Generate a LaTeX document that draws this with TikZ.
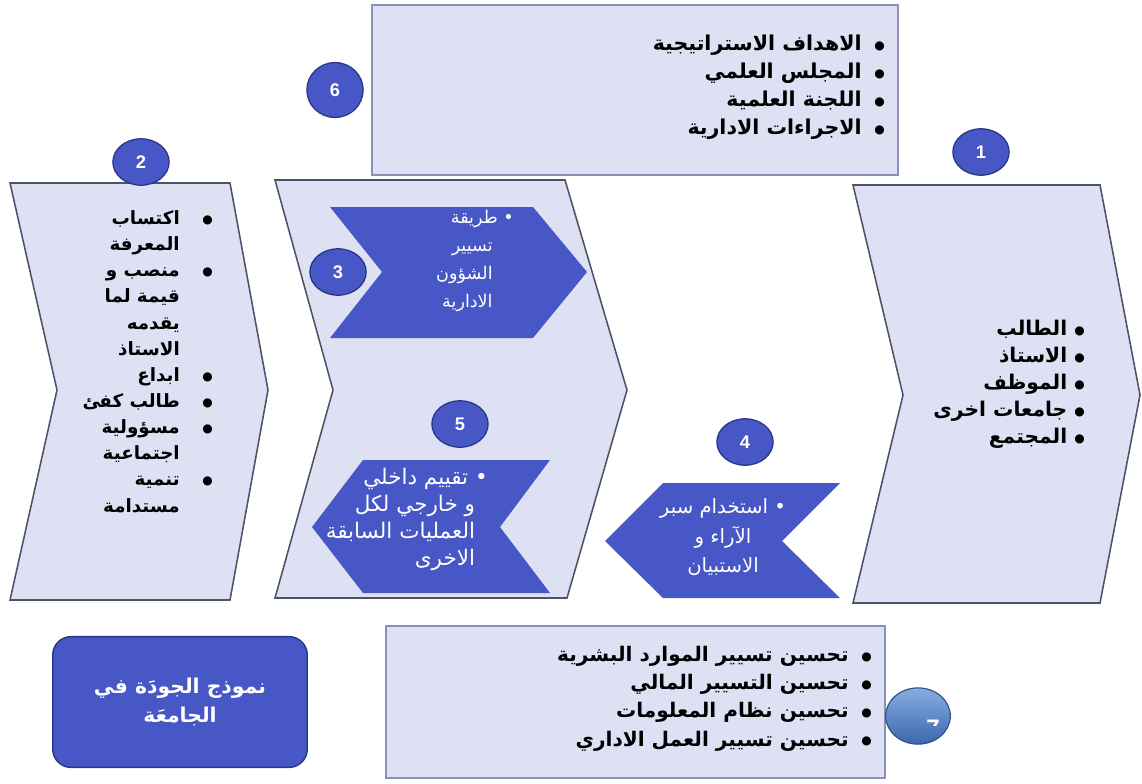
\documentclass[tikz,border=0pt]{standalone}
\usepackage{fontspec}
\usetikzlibrary{shapes.geometric}
\setmainfont{Liberation Sans}
\newfontfamily\arfont[Script=Arabic]{DejaVu Sans}
\TeXXeTstate=1
\newcommand\ARt[1]{\beginR #1\endR}
\newcommand\bul{\raisebox{0.8pt}{\fontsize{8.5}{8.5}\selectfont ●}}
\definecolor{lightfill}{HTML}{DEE1F3}
\definecolor{chevborder}{HTML}{4E5266}
\definecolor{boxborder}{HTML}{8A90B8}
\definecolor{qblue}{HTML}{4757C6}
\definecolor{numborder}{HTML}{2A3585}
\definecolor{glosstop}{HTML}{86AEE0}
\definecolor{glossbot}{HTML}{3C67AE}
\definecolor{glossborder}{HTML}{2F4F86}
\begin{document}
\begin{tikzpicture}[x=0.025cm,y=-0.025cm,
  lightshape/.style={fill=lightfill, draw=chevborder, line width=1.1pt, line join=miter},
  boxshape/.style={fill=lightfill, draw=boxborder, line width=1.6pt},
  darkshape/.style={fill=qblue},
  numcirc/.style={ellipse, fill=qblue, draw=numborder, line width=0.9pt, text=white,
    font=\bfseries\fontsize{13}{13}\selectfont, minimum width=40pt, minimum height=33pt, inner sep=0pt},
  glossy/.style={ellipse, top color=glosstop, bottom color=glossbot, draw=glossborder, line width=0.8pt,
    minimum width=46pt, minimum height=40pt, inner sep=0pt},
  blacklist/.style n args={2}{inner sep=0pt, text=black, font={\arfont\bfseries\fontsize{#1}{#2}\selectfont}},
  whitelist/.style n args={2}{inner sep=0pt, text=white, font={\arfont\fontsize{#1}{#2}\selectfont}},
  titlebox/.style={rounded corners=13pt, fill=qblue, draw=numborder, line width=1pt, text=white,
    minimum width=181pt, minimum height=93pt, align=center,
    font={\arfont\bfseries\fontsize{14.5}{20}\selectfont}}
]
\useasboundingbox (0,0) rectangle (1142,783);
\fill[white] (0,0) rectangle (1142,783);

% big light shapes
\draw[boxshape] (372,5) rectangle (898,175);
\draw[lightshape] (10,183) -- (230,183) -- (268,390) -- (230,600) -- (10,600) -- (57,390) -- cycle;
\draw[lightshape] (275,180) -- (565,180) -- (627,390) -- (567,598) -- (275,598) -- (333,390) -- cycle;
\draw[lightshape] (853,185) -- (1100,185) -- (1140,395) -- (1100,603) -- (853,603) -- (903,395) -- cycle;
\draw[boxshape] (386,626) rectangle (885,778);

% dark chevrons
\fill[darkshape] (330,207) -- (533,207) -- (587,272) -- (533,338) -- (330,338) -- (382,272) -- cycle;
\fill[darkshape] (363,460) -- (550,460) -- (500,527) -- (550,593) -- (363,593) -- (312,527) -- cycle;
\fill[darkshape] (663,483) -- (840,483) -- (782,541) -- (840,598) -- (663,598) -- (605,541) -- cycle;

% number circles
\node[numcirc] (n1) at (981,152) {1};
\node[numcirc] (n2) at (141,162) {2};
\node[numcirc, minimum height=39pt] (n6) at (335,90) {6};
\node[numcirc] (n3) at (338,272) {3};
\node[numcirc] (n5) at (460,424) {5};
\node[numcirc] (n4) at (745,442) {4};

% glossy circle
\node[glossy] (n7) at (918,716) {};
\begin{scope}
  \clip (905,712) rectangle (945,725);
  \node[text=white, inner sep=0pt, font=\bfseries\fontsize{17}{17}\selectfont] (t7) at (933,728) {7};
\end{scope}

% top box list
\node[blacklist={14.6}{19.9pt}, anchor=east] (toplist) at (885,87) {%
\begin{tabular}{@{}r@{\hspace{9pt}}c@{}}
\ARt{الاهداف الاستراتيجية} & \bul \\
\ARt{المجلس العلمي} & \bul \\
\ARt{اللجنة العلمية} & \bul \\
\ARt{الاجراءات الادارية} & \bul \\
\end{tabular}};

% left chevron list
\node[blacklist={13}{18.6pt}, anchor=east] (leftlist) at (213,363) {%
\begin{tabular}{@{}r@{\hspace{16pt}}c@{}}
\ARt{اكتساب} & \bul \\
\ARt{المعرفة} & \\
\ARt{منصب و} & \bul \\
\ARt{قيمة لما} & \\
\ARt{يقدمه} & \\
\ARt{الاستاذ} & \\
\ARt{ابداع} & \bul \\
\ARt{طالب كفئ} & \bul \\
\ARt{مسؤولية} & \bul \\
\ARt{اجتماعية} & \\
\ARt{تنمية} & \bul \\
\ARt{مستدامة} & \\
\end{tabular}};

% right chevron list
\node[blacklist={14.4}{19.2pt}, anchor=east] (rightlist) at (1085,384) {%
\begin{tabular}{@{}r@{\hspace{5pt}}c@{}}
\ARt{الطالب} & \bul \\
\ARt{الاستاذ} & \bul \\
\ARt{الموظف} & \bul \\
\ARt{جامعات اخرى} & \bul \\
\ARt{المجتمع} & \bul \\
\end{tabular}};

% bottom box list
\node[blacklist={14.3}{20.1pt}, anchor=east] (botlist) at (872,698) {%
\begin{tabular}{@{}r@{\hspace{9pt}}c@{}}
\ARt{تحسين تسيير الموارد البشرية} & \bul \\
\ARt{تحسين التسيير المالي} & \bul \\
\ARt{تحسين نظام المعلومات} & \bul \\
\ARt{تحسين تسيير العمل الاداري} & \bul \\
\end{tabular}};

% chevron 3 text
\node[whitelist={12.5}{19.9pt}, anchor=east] (t3) at (514,260) {%
\begin{tabular}{@{}r@{}}
\ARt{• طريقة} \\
\ARt{تسيير}\kern15pt \\
\ARt{الشؤون}\kern15pt \\
\ARt{الادارية}\kern15pt \\
\end{tabular}};

% chevron 5 text
\node[whitelist={15.3}{19.2pt}, anchor=east] (t5) at (488,520) {%
\begin{tabular}{@{}r@{}}
\ARt{• تقييم داخلي} \\
\ARt{و خارجي لكل}\kern9pt \\
\ARt{العمليات السابقة}\kern9pt \\
\ARt{الاخرى}\kern9pt \\
\end{tabular}};

% chevron 4 text
\node[whitelist={14}{21.3pt}] (t4) at (723,537) {%
\begin{tabular}{@{}c@{}}
\ARt{• استخدام سبر} \\
\ARt{الآراء و} \\
\ARt{الاستبيان} \\
\end{tabular}};

% title box
\node[titlebox] (title) at (180,702) {\ARt{نموذج الجودَة في}\\\ARt{الجامعَة}};
\end{tikzpicture}
\end{document}
